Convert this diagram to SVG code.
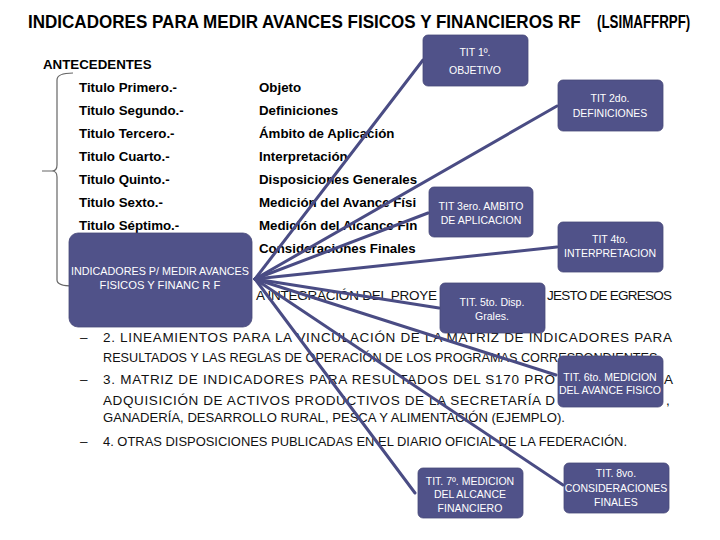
<svg xmlns="http://www.w3.org/2000/svg" width="720" height="540" viewBox="0 0 720 540">
<style>
.title{font-family:"Liberation Sans",Arial,sans-serif;font-weight:bold;font-size:18.5px;fill:#000}
.lbl{font-family:"Liberation Sans",Arial,sans-serif;font-weight:bold;font-size:13.3px;fill:#000}
.body{font-family:"Liberation Sans",Arial,sans-serif;font-size:13.5px;fill:#111}
.box{fill:#505289;stroke:#474979;stroke-width:0.8}
.bt{font-family:"Liberation Sans",Arial,sans-serif;font-size:10.5px;fill:#fff;text-anchor:middle}
.ct{font-family:"Liberation Sans",Arial,sans-serif;font-size:11.2px;fill:#fff;text-anchor:middle}
.conn{stroke:#4a4c84;stroke-width:3;fill:none;stroke-linecap:round}
.brace{stroke:#666;stroke-width:1.2;fill:none}
</style>
<rect width="720" height="540" fill="#fff"/>
<g transform="translate(28,28) scale(0.84,1)">
<text class="title" x="0" y="0" textLength="658" lengthAdjust="spacingAndGlyphs">INDICADORES PARA MEDIR AVANCES FISICOS Y FINANCIEROS RF</text>
</g>
<g transform="translate(597,28) scale(0.74,1)">
<text class="title" x="0" y="0" textLength="126" lengthAdjust="spacingAndGlyphs">(LSIMAFFRPF)</text>
</g>

<g id="antecedentes">
<text class="lbl" x="43" y="69">ANTECEDENTES</text>
<path class="brace" d="M73,73 Q57,73 57,80 L57,165 Q57,171 52,171 Q57,171 57,177 L57,280 Q57,286 73,286 M42,171 L52,171"/>
<text class="lbl" x="79" y="92">Titulo Primero.-</text>
<text class="lbl" x="79" y="115">Titulo Segundo.-</text>
<text class="lbl" x="79" y="138">Titulo Tercero.-</text>
<text class="lbl" x="79" y="161">Titulo Cuarto.-</text>
<text class="lbl" x="79" y="184">Titulo Quinto.-</text>
<text class="lbl" x="79" y="207">Titulo Sexto.-</text>
<text class="lbl" x="79" y="230">Titulo Séptimo.-</text>
<text class="lbl" x="259" y="92">Objeto</text>
<text class="lbl" x="259" y="115">Definiciones</text>
<text class="lbl" x="259" y="138">Ámbito de Aplicación</text>
<text class="lbl" x="259" y="161">Interpretación</text>
<text class="lbl" x="259" y="184">Disposiciones Generales</text>
<text class="lbl" x="259" y="207">Medición del Avance Físi</text>
<text class="lbl" x="259" y="230">Medición del Alcance Fin</text>
<text class="lbl" x="259" y="253">Consideraciones Finales</text>
</g>

<g id="body-text">
<text class="body" x="256" y="300" textLength="181" lengthAdjust="spacing">A INTEGRACIÓN DEL PROYE</text>
<text class="body" x="547" y="300" textLength="125" lengthAdjust="spacing">JESTO DE EGRESOS</text>
<text class="body" x="80" y="342">–</text>
<text class="body" x="103" y="342" textLength="569" lengthAdjust="spacing">2. LINEAMIENTOS PARA LA VINCULACIÓN DE LA MATRIZ DE INDICADORES PARA</text>
<text class="body" x="103" y="362" textLength="558" lengthAdjust="spacingAndGlyphs">RESULTADOS Y LAS REGLAS DE OPERACIÓN DE LOS PROGRAMAS CORRESPONDIENTES.</text>
<text class="body" x="80" y="384">–</text>
<text class="body" x="103" y="384" textLength="452" lengthAdjust="spacing">3. MATRIZ DE INDICADORES PARA RESULTADOS DEL S170 PRO</text>
<text class="body" x="664" y="384">A</text>
<text class="body" x="103" y="405" textLength="452" lengthAdjust="spacing">ADQUISICIÓN DE ACTIVOS PRODUCTIVOS DE LA SECRETARÍA D</text>
<text class="body" x="666" y="405">,</text>
<text class="body" x="103" y="422" textLength="462" lengthAdjust="spacingAndGlyphs">GANADERÍA, DESARROLLO RURAL, PESCA Y ALIMENTACIÓN (EJEMPLO).</text>
<text class="body" x="80" y="446">–</text>
<text class="body" x="103" y="446" textLength="524" lengthAdjust="spacingAndGlyphs">4. OTRAS DISPOSICIONES PUBLICADAS EN EL DIARIO OFICIAL DE LA FEDERACIÓN.</text>
</g>

<g id="connectors">
<line class="conn" x1="255" y1="279" x2="423" y2="60"/>
<line class="conn" x1="255" y1="279" x2="557" y2="106"/>
<line class="conn" x1="255" y1="279" x2="428" y2="213"/>
<line class="conn" x1="255" y1="279" x2="557" y2="247"/>
<line class="conn" x1="255" y1="279" x2="439" y2="308"/>
<line class="conn" x1="255" y1="279" x2="556" y2="375"/>
<line class="conn" x1="255" y1="279" x2="415" y2="493"/>
<line class="conn" x1="255" y1="279" x2="563" y2="485"/>
</g>

<g id="central">
<rect class="box" x="69" y="233" width="183" height="94" rx="9"/>
<text class="ct" x="160" y="275" textLength="178" lengthAdjust="spacingAndGlyphs">INDICADORES P/ MEDIR AVANCES</text>
<text class="ct" x="160" y="289">FISICOS Y FINANC R F</text>
</g>
<g id="tit1">
<rect class="box" x="423" y="35" width="105" height="51" rx="5"/>
<text class="bt" x="475" y="56">TIT 1º.</text>
<text class="bt" x="475" y="74">OBJETIVO</text>
</g>
<g id="tit2">
<rect class="box" x="558" y="80" width="105" height="51" rx="5"/>
<text class="bt" x="610" y="102">TIT 2do.</text>
<text class="bt" x="610" y="117">DEFINICIONES</text>
</g>
<g id="tit3">
<rect class="box" x="429" y="187" width="104" height="50" rx="5"/>
<text class="bt" x="481" y="210">TIT 3ero. AMBITO</text>
<text class="bt" x="481" y="224">DE APLICACION</text>
</g>
<g id="tit4">
<rect class="box" x="558" y="222" width="105" height="50" rx="5"/>
<text class="bt" x="610" y="243">TIT 4to.</text>
<text class="bt" x="610" y="257">INTERPRETACION</text>
</g>
<g id="tit5">
<rect class="box" x="440" y="283" width="105" height="50" rx="5"/>
<text class="bt" x="492" y="306">TIT. 5to. Disp.</text>
<text class="bt" x="492" y="320">Grales.</text>
</g>
<g id="tit6">
<rect class="box" x="558" y="356" width="105" height="51" rx="5"/>
<text class="bt" x="610" y="381">TIT. 6to. MEDICION</text>
<text class="bt" x="610" y="394">DEL AVANCE FISICO</text>
</g>
<g id="tit7">
<rect class="box" x="418" y="468" width="105" height="50" rx="5"/>
<text class="bt" x="470" y="485">TIT. 7º. MEDICION</text>
<text class="bt" x="470" y="498">DEL ALCANCE</text>
<text class="bt" x="470" y="512">FINANCIERO</text>
</g>
<g id="tit8">
<rect class="box" x="564" y="463" width="105" height="50" rx="5"/>
<text class="bt" x="616" y="477">TIT. 8vo.</text>
<text class="bt" x="616" y="492">CONSIDERACIONES</text>
<text class="bt" x="616" y="506">FINALES</text>
</g>
</svg>
